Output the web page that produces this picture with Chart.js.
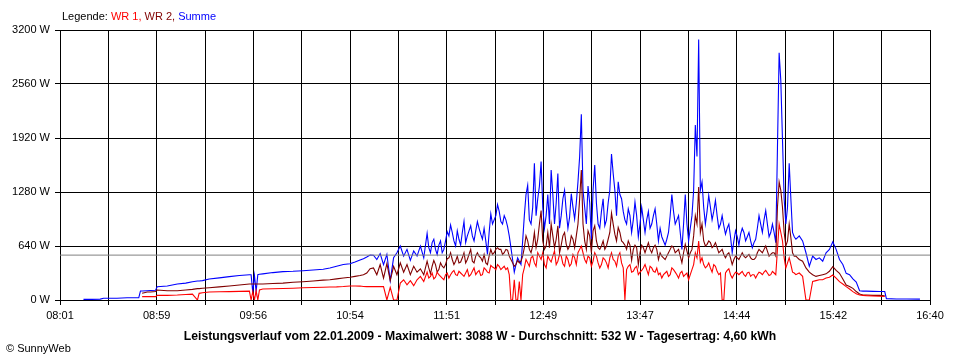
<!DOCTYPE html>
<html><head><meta charset="utf-8">
<script src="https://cdn.jsdelivr.net/npm/chart.js@4"></script>
<style>html,body{margin:0;padding:0;background:#fff}canvas{display:block}</style>
</head><body>
<canvas id="c" width="960" height="360"></canvas>
<script>
// x-axis tick labels (every second grid line)
const tickLabels = ['08:01','08:59','09:56','10:54','11:51','12:49','13:47','14:44','15:42','16:40'];
const seriesNames = ['WR 1', 'WR 2', 'Summe'];

// sample times in minutes after midnight (main samples, then extra odd-minute samples)
const times = [
  495,500,505,507,515,521,528,529,530,533,535,538,539,545,551,556,560,563,564,566,570,576,582,588,594,595,596,597,598,599,600,602,608,614,620,626,632,638,642,646,650,654,657,
  660,662,664,666,668,670,672,674,676,678,
  680,682,684,686,688,690,692,694,696,698,
  700,702,704,706,708,710,712,714,716,718,
  720,722,724,726,728,730,732,734,736,738,
  740,742,744,746,748,750,752,754,756,758,
  760,762,764,766,768,770,772,774,776,778,
  780,782,784,786,788,790,792,794,796,798,
  800,802,804,806,808,810,812,814,816,818,
  820,822,824,826,828,830,832,834,836,838,
  840,842,844,846,848,850,852,854,856,858,
  860,862,864,866,868,870,872,874,876,878,
  880,882,884,886,888,890,892,894,896,898,
  900,902,904,906,908,910,912,914,916,918,
  920,922,924,926,928,930,932,934,936,938,
  940,942,944,946,948,950,952,954,956,958,
  960,
  962,966,970,973,974,980,986,994,
  // extra samples
  701,703,705,707,709,711,713,715,717,719,
  721,723,725,727,729,731,733,735,737,739,
  741,743,745,747,749,751,753,755,
  757,759,761,763,765,767,769,771,773,775,
  777,779,781,783,785,787,789,791,793,795,
  797,799,801,803,805,807,809,811,813,815,
  817,819,821,823,825,827,829,
  831,833,835,837,839,841,843,845,847,849,
  851,853,855,857,859,861,863,865,867,869,
  871,873,875,877,879,881,883,885,887,889,
  891,893,895,897,899,901,903,905,907,909,
  911,913,915,917,919,921
];

// WR 1 (W)
const wr1 = [
  null,null,null,null,null,null,null,null,40,40,40,40,55,55,59,65,70,0,79,85,95,97,99,102,105,0,100,0,110,0,120,130,133,137,140,145,148,152,154,156,160,166,166,
  165,160,158,160,158,160,158,160,0,150,
  0,0,200,240,180,230,170,240,280,220,
  330,280,250,330,280,240,320,300,350,290,
  320,280,360,300,380,330,290,380,330,410,
  380,420,360,400,380,0,240,0,0,380,
  440,500,440,560,480,420,520,450,580,460,
  520,400,480,430,500,560,640,480,520,400,
  560,440,420,480,380,560,460,520,440,0,
  400,330,380,300,350,420,300,380,330,300,
  260,320,280,380,330,260,340,300,240,360,
  560,700,500,380,440,330,400,300,0,320,
  370,260,330,300,340,280,330,300,260,330,
  300,350,290,340,300,900,700,380,500,330,
  300,320,280,0,0,220,230,240,240,260,
  270,296,260,217,190,158,130,99,75,59,
  55,
  52,48,45,42,null,null,null,null,
  260,320,270,300,260,300,260,330,300,340,
  300,320,280,340,300,350,300,360,320,390,
  360,400,380,360,300,0,0,220,
  300,480,400,520,400,520,560,380,480,520,
  420,540,430,520,400,540,420,600,560,440,
  500,460,520,380,500,440,500,480,400,560,
  380,360,420,340,400,330,380,
  360,400,340,380,320,300,340,300,360,300,
  320,280,320,300,420,500,450,420,400,380,
  420,340,320,0,350,300,300,320,320,300,
  320,280,300,300,320,330,320,300,320,600,
  800,500,440,420,320,310
];

// WR 2 (W)
const wr2 = [
  null,null,null,null,null,null,null,null,79,95,95,100,118,110,110,118,126,135,135,140,146,155,166,178,190,190,190,190,190,190,190,190,195,200,210,217,225,235,240,250,260,270,280,
  290,300,320,370,380,300,420,260,430,230,
  400,300,440,330,420,300,400,330,370,300,
  460,310,470,330,440,380,490,560,420,520,
  450,560,480,600,440,560,500,540,420,600,
  560,620,600,560,590,480,400,470,460,620,
  700,560,800,720,1060,600,800,900,620,880,
  650,800,600,760,620,900,1540,700,820,560,
  880,620,640,600,720,1030,780,860,700,650,
  700,470,650,420,650,560,680,560,650,480,
  520,480,560,640,560,600,440,660,500,600,
  1000,1340,900,640,700,620,680,560,600,500,
  560,420,520,480,560,500,540,480,500,600,
  560,640,520,560,520,1400,1100,640,900,560,
  520,480,460,380,330,300,280,290,300,310,
  340,395,350,316,250,178,160,138,100,71,
  60,
  60,55,55,50,null,null,null,null,
  380,400,420,360,400,420,500,480,460,440,
  500,440,540,460,520,520,460,440,520,540,
  600,600,540,600,520,440,420,440,
  520,760,600,640,620,900,700,640,620,760,
  720,560,760,660,640,720,760,1200,900,600,
  760,820,700,600,700,640,800,900,700,800,
  680,600,650,600,620,560,620,
  620,600,620,600,560,500,520,600,620,580,
  520,560,580,560,760,900,800,700,660,680,
  640,620,580,540,540,500,480,500,520,520,
  520,500,480,560,580,600,580,540,560,1100,
  1300,800,700,740,520,500
];

// Summe (W)
const summe = [
  8,8,10,20,20,27,27,107,107,110,112,115,158,165,190,200,217,225,225,230,249,262,277,290,300,300,90,290,100,300,305,310,325,336,340,347,355,365,380,400,420,430,450,
  474,490,510,533,530,480,550,420,540,230,
  500,560,640,520,600,470,580,520,640,500,
  790,560,720,540,700,600,810,890,700,820,
  650,930,760,880,700,930,780,850,540,1020,
  950,1130,930,1000,870,620,330,500,420,1000,
  1360,900,1620,1200,1640,850,1250,1540,900,1500,
  1000,1300,850,1260,960,1400,2200,1100,1350,720,
  1600,900,1050,880,1150,1730,1300,1400,1200,950,
  1080,800,1160,750,1100,800,1050,900,1080,700,
  750,650,800,1250,900,1000,600,1250,700,1000,
  2074,3088,1400,900,1240,950,1180,850,1000,780,
  900,560,820,650,850,700,800,620,720,1000,
  800,1060,750,900,680,2930,1900,900,1620,800,
  720,760,700,560,400,520,480,500,460,560,
  600,690,600,480,420,316,300,250,213,110,
  105,
  105,102,100,100,16,12,12,10,
  620,680,600,650,560,700,760,800,640,720,
  800,680,820,760,820,850,720,700,800,900,
  1000,1050,900,950,760,480,420,460,
  700,1250,950,1100,1000,1350,1100,1000,900,1250,
  1150,850,1200,1050,980,1100,1150,1700,1300,900,
  1150,1300,1150,850,1200,950,1300,1500,1000,1250,
  1050,900,1000,950,1000,900,950,
  950,850,1000,900,850,700,720,1000,1050,950,
  800,900,900,850,1300,1700,1300,1100,1050,1100,
  1050,1000,900,880,850,750,700,750,780,800,
  750,700,680,850,900,950,900,800,800,1800,
  2600,1200,1100,1200,750,740
];

const averageW = 532;
const maxW = 3088;
const dateText = '22.01.2009';
const energyText = '4,60 kWh';
const yMax = 3200, yStep = 640;
const xMin = 481, xMax = 1000;   // 08:01 .. 16:40

const FONT = '"Liberation Sans", Arial, sans-serif';
const pts = arr => times.map((t, i) => ({x: t, y: arr[i]})).sort((a, b) => a.x - b.x);
const titleText = 'Leistungsverlauf vom ' + dateText + ' - Maximalwert: ' + maxW + ' W - Durchschnitt: ' + averageW + ' W - Tagesertrag: ' + energyText;

const textPlugin = {
  id: 'texts',
  afterDraw(chart) {
    const ctx = chart.ctx;
    ctx.save();
    ctx.textBaseline = 'middle';
    ctx.textAlign = 'left';
    ctx.font = '11px ' + FONT;
    let x = 62;
    const parts = [['Legende: ', '#000000'], [seriesNames[0] + ', ', '#ff0000'], [seriesNames[1] + ', ', '#800000'], [seriesNames[2], '#0000ff']];
    parts.forEach(([t, c]) => { ctx.fillStyle = c; ctx.fillText(t, x, 17); x += ctx.measureText(t).width; });
    ctx.fillStyle = '#000';
    ctx.font = 'bold 12.2px ' + FONT;
    ctx.textAlign = 'center';
    ctx.fillText(titleText, 480, 337);
    ctx.font = '11px ' + FONT;
    ctx.textAlign = 'left';
    ctx.fillText('\u00A9 SunnyWeb', 6, 349);
    ctx.restore();
  }
};

new Chart(document.getElementById('c'), {
  type: 'line',
  data: {
    datasets: [
      {label: 'Durchschnitt', data: [{x: xMin, y: averageW}, {x: xMax, y: averageW}], borderColor: '#808080', borderWidth: 1, order: 0},
      {label: seriesNames[0], data: pts(wr1), borderColor: '#ff0000', borderWidth: 1.1, order: 1},
      {label: seriesNames[1], data: pts(wr2), borderColor: '#800000', borderWidth: 1.1, order: 2},
      {label: seriesNames[2], data: pts(summe), borderColor: '#0000ff', borderWidth: 1.1, order: 3}
    ]
  },
  options: {
    responsive: false,
    devicePixelRatio: 1,
    animation: false,
    elements: {point: {radius: 0}, line: {tension: 0}},
    layout: {padding: {top: 30, right: 30, bottom: 40, left: 0}},
    plugins: {legend: {display: false}, tooltip: {enabled: false}},
    scales: {
      x: {
        type: 'linear', min: xMin, max: xMax,
        afterBuildTicks(axis) {
          const n = (tickLabels.length - 1) * 2;
          axis.ticks = Array.from({length: n + 1}, (_, i) => ({value: xMin + i * (xMax - xMin) / n}));
        },
        ticks: {autoSkip: false, maxRotation: 0, padding: 4, color: '#000', font: {family: FONT, size: 11},
          callback: (v, i) => (i % 2 === 0 ? tickLabels[i / 2] : '')},
        grid: {color: '#000', lineWidth: 1, tickLength: 5},
        border: {color: '#000', width: 1},
        afterFit(s) { s.height = 20; }
      },
      y: {
        min: 0, max: yMax,
        ticks: {stepSize: yStep, padding: 5, color: '#000', font: {family: FONT, size: 11}, callback: v => v + ' W'},
        grid: {color: '#000', lineWidth: 1, tickLength: 5},
        border: {color: '#000', width: 1},
        afterFit(s) { s.width = 60; }
      }
    }
  },
  plugins: [textPlugin]
});
</script>
</body></html>
